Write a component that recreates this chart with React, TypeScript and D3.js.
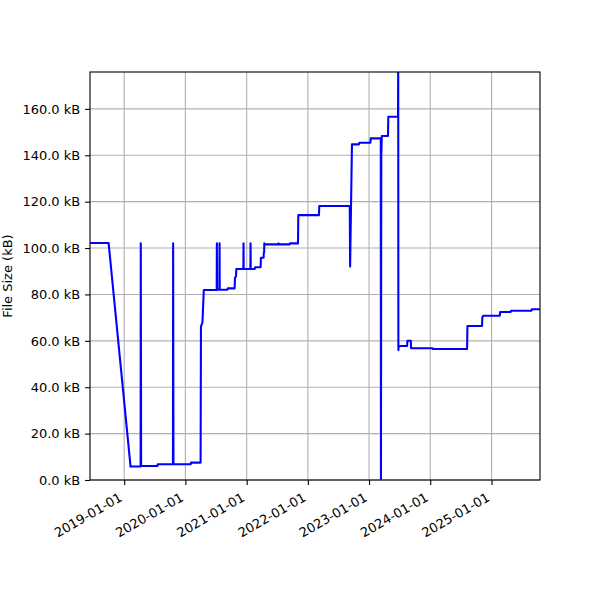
import * as d3 from "d3";
import { useRef, useEffect } from "react";

// commit dates and file size (kB) at each commit
const commitDates = [
  "2018-06-11", "2018-09-30", "2019-02-08", "2019-04-09", "2019-04-10", "2019-04-12",
  "2019-07-18", "2019-07-20", "2019-10-19", "2019-10-20", "2019-10-22", "2020-02-02",
  "2020-02-04", "2020-04-01", "2020-04-03", "2020-04-12", "2020-04-20", "2020-07-06",
  "2020-07-07", "2020-07-08", "2020-07-22", "2020-07-23", "2020-07-24", "2020-09-08",
  "2020-09-10", "2020-10-21", "2020-10-23", "2020-10-29", "2020-10-31", "2020-12-12",
  "2020-12-13", "2020-12-14", "2021-01-23", "2021-01-24", "2021-01-25", "2021-02-18",
  "2021-02-20", "2021-03-25", "2021-03-27", "2021-04-12", "2021-04-13", "2021-04-15",
  "2021-04-16", "2021-04-18", "2021-07-09", "2021-07-10", "2021-07-12", "2021-09-14",
  "2021-09-16", "2021-11-03", "2021-11-05", "2022-03-08", "2022-03-10", "2022-09-08",
  "2022-09-10", "2022-09-21", "2022-11-02", "2022-11-04", "2023-01-09", "2023-01-11",
  "2023-03-12", "2023-03-13", "2023-03-15", "2023-03-17", "2023-03-18", "2023-04-24",
  "2023-04-26", "2023-06-23", "2023-06-24", "2023-06-25", "2023-06-27", "2023-08-16",
  "2023-08-18", "2023-09-07", "2023-09-09", "2024-01-15", "2024-01-17", "2024-08-08",
  "2024-08-10", "2024-11-05", "2024-11-07", "2024-11-12", "2025-02-19", "2025-02-21",
  "2025-04-25", "2025-04-27", "2025-08-27", "2025-08-29", "2025-10-17",
];

const fileSizes = [
  102.2, 102.2, 5.8, 5.8, 102.0, 6.0,
  6.0, 6.8, 6.8, 102.0, 6.8, 6.8,
  7.5, 7.5, 66.1, 68.0, 81.9, 81.9,
  102.0, 82.0, 82.0, 102.0, 82.0, 82.0,
  82.6, 82.6, 87.2, 87.8, 91.0, 91.0,
  102.0, 91.0, 91.0, 102.0, 91.0, 91.0,
  91.7, 91.7, 95.8, 95.8, 98.0, 98.0,
  102.0, 101.6, 101.6, 102.0, 101.6, 101.6,
  102.0, 102.0, 114.2, 114.2, 118.1, 118.1,
  92.0, 144.7, 144.7, 145.4, 145.4, 147.3,
  147.3, 0.5, 140.0, 145.0, 148.3, 148.3,
  156.6, 156.6, 185.0, 56.0, 57.8, 57.8,
  60.0, 60.0, 56.8, 56.8, 56.5, 56.5,
  66.4, 66.4, 70.1, 70.8, 70.8, 72.4,
  72.4, 73.0, 73.0, 73.6, 73.6,
];

const xTickLabels = [
  "2019-01-01", "2020-01-01", "2021-01-01", "2022-01-01",
  "2023-01-01", "2024-01-01", "2025-01-01",
];
const yTicks = [0, 20, 40, 60, 80, 100, 120, 140, 160];
const xLimits = ["2018-06-11", "2025-10-17"];
const yLimits = [0, 175.9];

const width = 600;
const height = 600;
const marginTop = 72;
const marginRight = 60;
const marginBottom = 120;
const marginLeft = 90;
const fontFamily = "DejaVu Sans, sans-serif";

export default function App() {
  const gx = useRef<SVGGElement>(null);
  const gy = useRef<SVGGElement>(null);

  const parse = d3.utcParse("%Y-%m-%d");
  const data: [Date, number][] = commitDates.map((d, i) => [parse(d)!, fileSizes[i]]);
  const xTicks = xTickLabels.map((d) => parse(d)!);

  const x = d3
    .scaleUtc()
    .domain(xLimits.map((d) => parse(d)!) as [Date, Date])
    .range([marginLeft, width - marginRight]);

  const y = d3
    .scaleLinear()
    .domain(yLimits)
    .range([height - marginBottom, marginTop]);

  const line = d3
    .line<[Date, number]>()
    .x((d) => x(d[0]))
    .y((d) => y(d[1]));

  useEffect(() => {
    if (gx.current) {
      const g = d3.select(gx.current);
      g.call(
        d3
          .axisBottom(x)
          .tickValues(xTicks)
          .tickSize(4.9)
          .tickPadding(0)
          .tickFormat((d) => d3.utcFormat("%Y-%m-%d")(d as Date))
      );
      g.select(".domain").remove();
      g.selectAll(".tick line").attr("stroke", "black").attr("stroke-width", 1.1);
      g.selectAll(".tick text")
        .attr("fill", "black")
        .attr("font-size", 13)
        .attr("font-family", fontFamily)
        .attr("text-anchor", "end")
        .attr("dy", null)
        .attr("y", null)
        .attr("transform", "translate(-1.5,20) rotate(-30)");
    }
  }, [x]);

  useEffect(() => {
    if (gy.current) {
      const g = d3.select(gy.current);
      g.call(
        d3
          .axisLeft(y)
          .tickValues(yTicks)
          .tickSize(4.9)
          .tickPadding(4.9)
          .tickFormat((d) => `${(d as number).toFixed(1)} kB`)
      );
      g.select(".domain").remove();
      g.selectAll(".tick line").attr("stroke", "black").attr("stroke-width", 1.1);
      g.selectAll(".tick text")
        .attr("fill", "black")
        .attr("font-size", 13)
        .attr("font-family", fontFamily);
    }
  }, [y]);

  const plotW = width - marginLeft - marginRight;
  const plotH = height - marginTop - marginBottom;

  return (
    <svg
      width={width}
      height={height}
      style={{ position: "absolute", left: 0, top: 0, background: "white" }}
    >
      <defs>
        <clipPath id="plot-clip">
          <rect x={marginLeft} y={marginTop} width={plotW} height={plotH} />
        </clipPath>
      </defs>
      <g>
        {xTicks.map((t, i) => (
          <line
            key={`gx${i}`}
            x1={x(t)}
            x2={x(t)}
            y1={marginTop}
            y2={height - marginBottom}
            stroke="#b0b0b0"
            strokeWidth={1.1}
          />
        ))}
        {yTicks.map((t, i) => (
          <line
            key={`gy${i}`}
            x1={marginLeft}
            x2={width - marginRight}
            y1={y(t)}
            y2={y(t)}
            stroke="#b0b0b0"
            strokeWidth={1.1}
          />
        ))}
      </g>
      <path
        d={line(data) || ""}
        fill="none"
        stroke="#0000ff"
        strokeWidth={2.08}
        strokeLinejoin="round"
        strokeLinecap="butt"
        clipPath="url(#plot-clip)"
      />
      <rect
        x={marginLeft}
        y={marginTop}
        width={plotW}
        height={plotH}
        fill="none"
        stroke="black"
        strokeWidth={1.1}
      />
      <g ref={gx} transform={`translate(0,${height - marginBottom})`} />
      <g ref={gy} transform={`translate(${marginLeft},0)`} />
      <text
        transform={`translate(12,${marginTop + plotH / 2}) rotate(-90)`}
        textAnchor="middle"
        fontSize={13}
        fontFamily={fontFamily}
      >
        File Size (kB)
      </text>
    </svg>
  );
}
